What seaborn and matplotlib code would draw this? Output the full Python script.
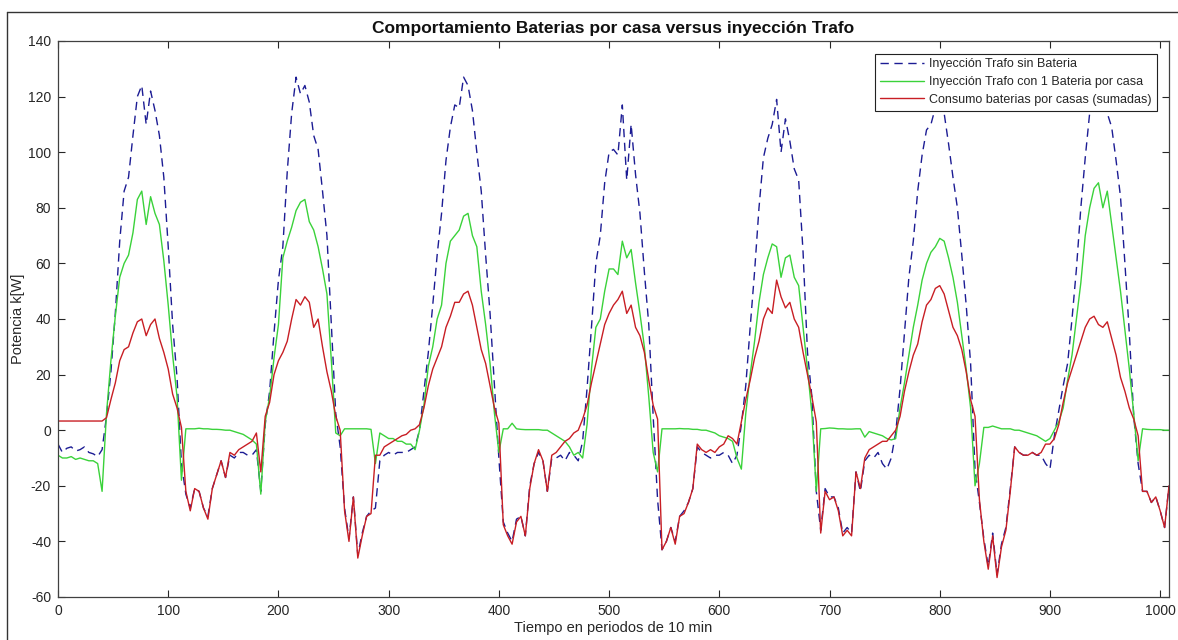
import numpy as np
import pandas as pd
import matplotlib
matplotlib.use("Agg")
import matplotlib.pyplot as plt
import seaborn as sns
from matplotlib.lines import Line2D

# ---- data (sampled every 4 periods) ----
periodo = list(range(0, 1009, 4))

sin_bateria = [
    -5, -8, -6.5, -6, -7.5, -7, -6, -8, -8.5, -9.5,
    -7, 5, 21, 42, 68, 86, 91, 106, 120, 124,
    110, 122, 115, 106, 91, 66, 38, 19, -12, -23,
    -28, -21, -22, -28, -31, -21, -16, -11, -17, -9,
    -10, -8, -8, -9, -9, -7, -22, 2, 14, 35,
    54, 66, 93, 114, 127, 121, 124, 118, 106, 101,
    86, 70, 38, 6, -6, -28, -39, -24, -45, -37,
    -31, -29, -28, -11, -9, -8, -9, -8, -8, -8,
    -7, -6, 0, 14, 28, 45, 63, 78, 97, 109,
    117, 116, 127, 124, 115, 100, 86, 63, 42, 16,
    -10, -33, -37, -40, -32, -31, -38, -20, -12, -8,
    -11, -22, -10, -10, -9, -11, -8, -9, -11, -4,
    15, 37, 60, 70, 89, 100, 101, 99, 117, 90,
    110, 92, 78, 57, 38, 5, -25, -43, -40, -35,
    -40, -31, -29, -26, -21, -6, -8, -9, -10, -9,
    -9, -8, -9, -12, -9, 2, 16, 37, 57, 80,
    98, 105, 110, 119, 100, 112, 104, 94, 90, 64,
    28, 12, -22, -36, -21, -24, -24, -28, -37, -35,
    -37, -15, -22, -11, -9, -10, -8, -12, -14, -10,
    -1, 15, 35, 55, 68, 86, 99, 108, 110, 116,
    119, 114, 103, 91, 80, 63, 45, 24, -14, -26,
    -39, -49, -37, -52, -41, -35, -21, -6, -8, -9,
    -9, -8, -9, -9, -12, -14, -2, 7, 16, 24,
    40, 58, 80, 98, 114, 117, 118, 116, 114, 109,
    97, 84, 60, 35, 5, -12, -22, -22, -26, -24,
    -29, -35, -20,
]

con_bateria = [
    -9, -10, -10, -9.5, -10.5, -10, -10.5, -11, -11, -12,
    -22, 6, 25, 41, 55, 60, 63, 71, 83, 86,
    74, 84, 78, 74, 61, 45, 27, 12, -18, 0.5,
    0.5, 0.5, 0.7, 0.5, 0.5, 0.3, 0.3, 0.2, 0, 0,
    -0.5, -1, -1.5, -2.5, -3.5, -5, -23, 3, 12, 26,
    38, 62, 68, 73, 79, 82, 83, 75, 72, 66,
    58, 49, 25, -1, -2, 0.5, 0.5, 0.5, 0.5, 0.5,
    0.5, 0.3, -12, -1, -2, -3, -3, -4, -4, -5,
    -5, -7, 0, 9, 23, 30, 40, 45, 60, 68,
    70, 72, 77, 78, 70, 66, 50, 38, 24, 6,
    -8, 0.5, 0.5, 2.5, 0.5, 0.3, 0.2, 0.2, 0.2, 0.2,
    0, 0, -1, -2, -3, -4, -6, -9, -8, -10,
    2, 22, 37, 40, 50, 58, 58, 56, 68, 62,
    65, 53, 42, 30, 12, -8, -15, 0.5, 0.5, 0.5,
    0.5, 0.6, 0.5, 0.5, 0.3, 0.3, 0, 0, -0.5, -1,
    -2, -2.5, -3, -4, -10, -14, 6, 20, 32, 46,
    56, 62, 67, 66, 55, 62, 63, 55, 52, 37,
    22, 6, -22, 0.5, 0.6, 0.8, 0.7, 0.5, 0.5, 0.4,
    0.4, 0.5, 0.5, -2.5, -0.5, -1, -1.5, -2, -3, -3.5,
    -3, 8, 17, 27, 37, 45, 54, 60, 64, 66,
    69, 68, 62, 55, 46, 34, 22, 8, -20, -12,
    1, 1, 1.5, 1, 0.5, 0.5, 0.5, 0, 0, -0.5,
    -1, -1.5, -2, -3, -4, -3, 0, 3, 8, 18,
    27, 40, 53, 70, 80, 87, 89, 80, 86, 74,
    62, 50, 36, 22, 6, -11, 0.5, 0.3, 0.2, 0.2,
    0.2, 0, 0,
]

consumo_baterias = [
    3.3, 3.3, 3.3, 3.3, 3.3, 3.3, 3.3, 3.3, 3.3, 3.3,
    3.3, 4.5, 11, 17, 25, 29, 30, 35, 39, 40,
    34, 38, 40, 33, 28, 22, 13, 8, 1, -22,
    -29, -21, -22, -28, -32, -21, -16, -11, -17, -8,
    -9, -7, -6, -5, -4, -1, -15, 5, 10, 20,
    25, 28, 32, 40, 47, 45, 48, 46, 37, 40,
    30, 21, 14, 5, 0, -29, -40, -24, -46, -38,
    -31, -30, -9, -9, -6, -5, -4, -3, -2, -1.5,
    0, 0.5, 2, 8, 16, 22, 26, 30, 37, 41,
    46, 46, 49, 50, 45, 37, 29, 24, 16, 8,
    2.5, -34, -38, -41, -33, -31, -38, -21, -12, -7,
    -11, -22, -9, -8, -6, -4, -3, -1, 0, 4,
    9, 17, 24, 31, 38, 42, 45, 47, 50, 42,
    45, 37, 34, 28, 18, 9, 4, -43, -40, -35,
    -41, -31, -30, -26, -21, -5, -7, -8, -7, -8,
    -6, -5, -2, -3, -5, 3, 11, 18, 26, 32,
    40, 44, 42, 54, 48, 44, 46, 40, 37, 28,
    20, 12, 3, -37, -22, -25, -24, -29, -38, -36,
    -38, -15, -21, -10, -7, -6, -5, -4, -4, -2,
    0, 5, 14, 21, 27, 31, 39, 45, 47, 51,
    52, 49, 43, 37, 34, 29, 21, 11, 5, -25,
    -40, -50, -38, -53, -42, -36, -22, -6, -8, -9,
    -9, -8, -9, -8, -5, -5, -3, 2, 10, 17,
    22, 27, 32, 37, 40, 41, 38, 37, 39, 33,
    27, 19, 14, 8, 4, -2, -22, -22, -26, -24,
    -29, -35, -20,
]

etiquetas = [
    "Inyección Trafo sin Bateria",
    "Inyección Trafo con 1 Bateria por casa",
    "Consumo baterias por casas (sumadas)",
]
titulo = "Comportamiento Baterias por casa versus inyección Trafo"
xlabel = "Tiempo en periodos de 10 min"
ylabel = "Potencia k[W]"
xticks = list(range(0, 1001, 100))
yticks = list(range(-60, 141, 20))

df = pd.DataFrame({
    "t": periodo,
    "sin": sin_bateria,
    "con": con_bateria,
    "cons": consumo_baterias,
})

# ---- style ----
sns.set_theme(style="white")
plt.rcParams["font.family"] = ["Liberation Sans", "DejaVu Sans"]
plt.rcParams["axes.unicode_minus"] = False

fig = plt.figure(figsize=(11.78, 6.40), dpi=100)
ax = fig.add_axes([58 / 1178, 1 - 597 / 640, (1169 - 58) / 1178, (597 - 41) / 640])

c_blue = "#1c1c94"
c_green = "#3ad23a"
c_red = "#c81e24"

sns.lineplot(data=df, x="t", y="sin", ax=ax, color=c_blue, lw=1.0,
             linestyle="--", estimator=None, sort=False)
sns.lineplot(data=df, x="t", y="con", ax=ax, color=c_green, lw=1.0,
             estimator=None, sort=False)
sns.lineplot(data=df, x="t", y="cons", ax=ax, color=c_red, lw=1.0,
             estimator=None, sort=False)
ax.get_lines()[0].set_dashes([6, 4])

ax.set_xlim(0, 1008)
ax.set_ylim(-60, 140)
ax.set_xticks(xticks)
ax.set_yticks(yticks)

tick_col = "#262626"
ax.tick_params(axis="both", which="both", direction="in", length=5, width=0.8,
               top=True, right=True, bottom=True, left=True,
               labelsize=10, colors=tick_col, pad=5)
for sp in ax.spines.values():
    sp.set_visible(True)
    sp.set_color("#404040")
    sp.set_linewidth(0.9)

ax.set_xlabel(xlabel, fontsize=10.5, color=tick_col, labelpad=2)
ax.set_ylabel(ylabel, fontsize=10.5, color=tick_col, labelpad=2)
ax.set_title(titulo, fontsize=12.5, fontweight="bold", color="#111111", pad=6)

handles = [
    Line2D([], [], color=c_blue, lw=1.0, dashes=[6, 4]),
    Line2D([], [], color=c_green, lw=1.0),
    Line2D([], [], color=c_red, lw=1.0),
]
leg = ax.legend(handles, etiquetas, loc="upper right", fontsize=9,
                frameon=True, fancybox=False, edgecolor="#222222",
                handlelength=3.5, handletextpad=0.4, borderpad=0.4,
                labelspacing=0.45, borderaxespad=1.0)
leg.get_frame().set_linewidth(0.8)
leg.get_frame().set_facecolor("white")
leg.get_frame().set_alpha(1)

# window frame lines of the original screenshot
fig.add_artist(Line2D([7 / 1178, 7 / 1178], [0, 1 - 12 / 640], transform=fig.transFigure,
                      color="#333333", lw=1.0))
fig.add_artist(Line2D([7 / 1178, 1], [1 - 12 / 640, 1 - 12 / 640], transform=fig.transFigure,
                      color="#333333", lw=1.0))

fig.savefig("out.png", dpi=100)
